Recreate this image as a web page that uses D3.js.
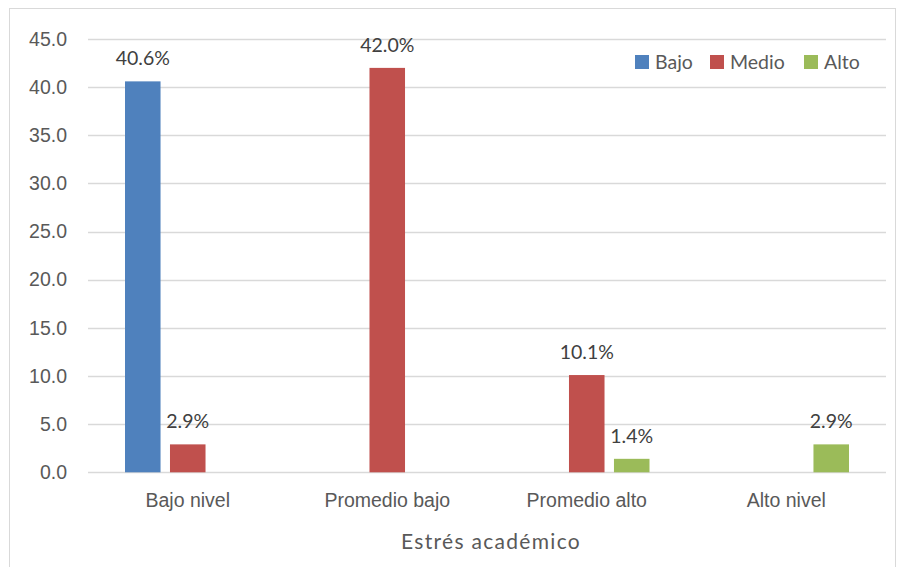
<!DOCTYPE html>
<html>
<head>
<meta charset="utf-8">
<script src="https://cdn.jsdelivr.net/npm/d3@7"></script>
<style>
  html, body { margin: 0; padding: 0; background: #fff; }
  svg { display: block; font-family: Lato, "Open Sans", sans-serif; }
</style>
</head>
<body>
<svg id="chart" width="898" height="567"></svg>
<script>
// Academic stress levels by group (percent)
const categories = ["Bajo nivel", "Promedio bajo", "Promedio alto", "Alto nivel"];
const seriesNames = ["Bajo", "Medio", "Alto"];
const seriesColors = ["#4F81BD", "#C0504D", "#9BBB59"];
const bajoValues  = [40.6, 0, 0, 0];
const medioValues = [2.9, 42.0, 10.1, 0];
const altoValues  = [0, 0, 1.4, 2.9];
const yTicks = [0, 5, 10, 15, 20, 25, 30, 35, 40, 45];
const xTitle = "Estrés académico";

const seriesValues = [bajoValues, medioValues, altoValues];

const svg = d3.select("#chart");
const W = 898, H = 567;
const margin = { left: 88, right: 12, top: 39, bottom: 95 };
const fs = 19.5;

// Outer chart frame
svg.append("rect")
  .attr("x", 9.5).attr("y", 8.5)
  .attr("width", W - 12).attr("height", H)
  .attr("fill", "#fff").attr("stroke", "#d9d9d9").attr("stroke-width", 1);

const x = d3.scaleBand()
  .domain(categories)
  .range([margin.left, W - margin.right])
  .paddingInner(0).paddingOuter(0);

const y = d3.scaleLinear()
  .domain([0, 45])
  .range([H - margin.bottom + 0.3, margin.top]);

const xSub = d3.scaleBand()
  .domain(seriesNames)
  .range([x.bandwidth() / 2 - 62.75, x.bandwidth() / 2 + 62.75])
  .paddingInner(0.21).paddingOuter(0);

// Gridlines and y labels
const yAxis = d3.axisLeft(y).tickValues(yTicks).tickFormat(d3.format(".1f")).tickSize(0).tickPadding(21);
const gy = svg.append("g").attr("transform", `translate(${margin.left},0)`).call(yAxis);
gy.select(".domain").remove();
gy.selectAll("text")
  .attr("fill", "#595959").attr("font-size", fs);

svg.append("g").selectAll("line")
  .data(yTicks)
  .join("line")
  .attr("x1", margin.left).attr("x2", W - margin.right)
  .attr("y1", d => Math.round(y(d)) + 0.5).attr("y2", d => Math.round(y(d)) + 0.5)
  .attr("stroke", "#d9d9d9").attr("stroke-width", 1.5);

// Category axis labels
const xAxis = d3.axisBottom(x).tickSize(0).tickPadding(21);
const gx = svg.append("g").attr("transform", `translate(0,${y(0)})`).call(xAxis);
gx.select(".domain").remove();
gx.selectAll("text").attr("fill", "#595959").attr("font-size", fs);

// Bars
const flat = [];
categories.forEach((c, i) => {
  seriesNames.forEach((s, j) => {
    flat.push({ cat: c, series: s, value: seriesValues[j][i], color: seriesColors[j] });
  });
});
const shown = flat.filter(d => d.value > 0);

svg.append("g").selectAll("rect")
  .data(shown)
  .join("rect")
  .attr("x", d => x(d.cat) + xSub(d.series))
  .attr("width", xSub.bandwidth())
  .attr("y", d => y(d.value))
  .attr("height", d => y(0) - y(d.value))
  .attr("fill", d => d.color);

// Value labels
svg.append("g").selectAll("text")
  .data(shown)
  .join("text")
  .attr("x", d => x(d.cat) + xSub(d.series) + xSub.bandwidth() / 2)
  .attr("y", d => y(d.value) - 16)
  .attr("text-anchor", "middle")
  .attr("fill", "#404040").attr("font-size", fs)
  .text(d => d.value.toFixed(1) + "%");

// Axis title
svg.append("text")
  .attr("x", 491)
  .attr("y", 549)
  .attr("text-anchor", "middle")
  .attr("fill", "#595959").attr("font-size", 21)
  .attr("letter-spacing", 1.3)
  .text(xTitle);

// Legend
const legendX = [635, 710, 804];
const lg = svg.append("g").selectAll("g")
  .data(seriesNames)
  .join("g")
  .attr("transform", (d, i) => `translate(${legendX[i]},55)`);
lg.append("rect").attr("width", 14).attr("height", 14)
  .attr("fill", (d, i) => seriesColors[i]);
lg.append("text").attr("x", 20).attr("y", 14)
  .attr("fill", "#595959").attr("font-size", fs)
  .text(d => d);
</script>
</body>
</html>
